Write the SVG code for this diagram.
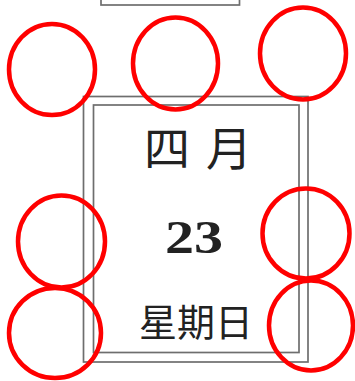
<svg xmlns="http://www.w3.org/2000/svg" width="355" height="381" viewBox="0 0 355 381">
<style>
.box{fill:none;stroke:#6e6e6e;stroke-width:1.7}
.mark{fill:none;stroke:#ff0000;stroke-width:4.5}
.cjk{font-family:"Noto Sans CJK SC","Noto Sans CJK JP",sans-serif;fill:#222;text-anchor:middle}
.num{font-family:"Liberation Serif",serif;font-weight:bold;fill:#222;text-anchor:middle}
</style>
<rect width="355" height="381" fill="#ffffff"/>
<g id="top-box"><rect class="box" x="101" y="-10" width="138.5" height="15"/></g>
<g id="calendar">
<rect class="box" x="83.5" y="96.5" width="224.5" height="265.5"/>
<rect class="box" x="93.5" y="105" width="205.5" height="247.5"/>
<text class="cjk" x="198" y="164.5" font-size="46">四<tspan dx="16">月</tspan></text>
<text class="num" x="194" y="253.3" font-size="47" textLength="58" lengthAdjust="spacingAndGlyphs">23</text>
<text class="cjk" x="196" y="336" font-size="38">星期日</text>
</g>
<g id="marks">
<ellipse class="mark" cx="52" cy="69.5" rx="43" ry="45.5"/>
<ellipse class="mark" cx="175.5" cy="63.5" rx="42.5" ry="46"/>
<ellipse class="mark" cx="303" cy="53.5" rx="43" ry="46"/>
<ellipse class="mark" cx="61.5" cy="241.5" rx="43.5" ry="46"/>
<ellipse class="mark" cx="306" cy="233.5" rx="43.5" ry="45"/>
<ellipse class="mark" cx="55" cy="333" rx="46" ry="45"/>
<ellipse class="mark" cx="311" cy="325.5" rx="42" ry="45"/>
</g>
</svg>
